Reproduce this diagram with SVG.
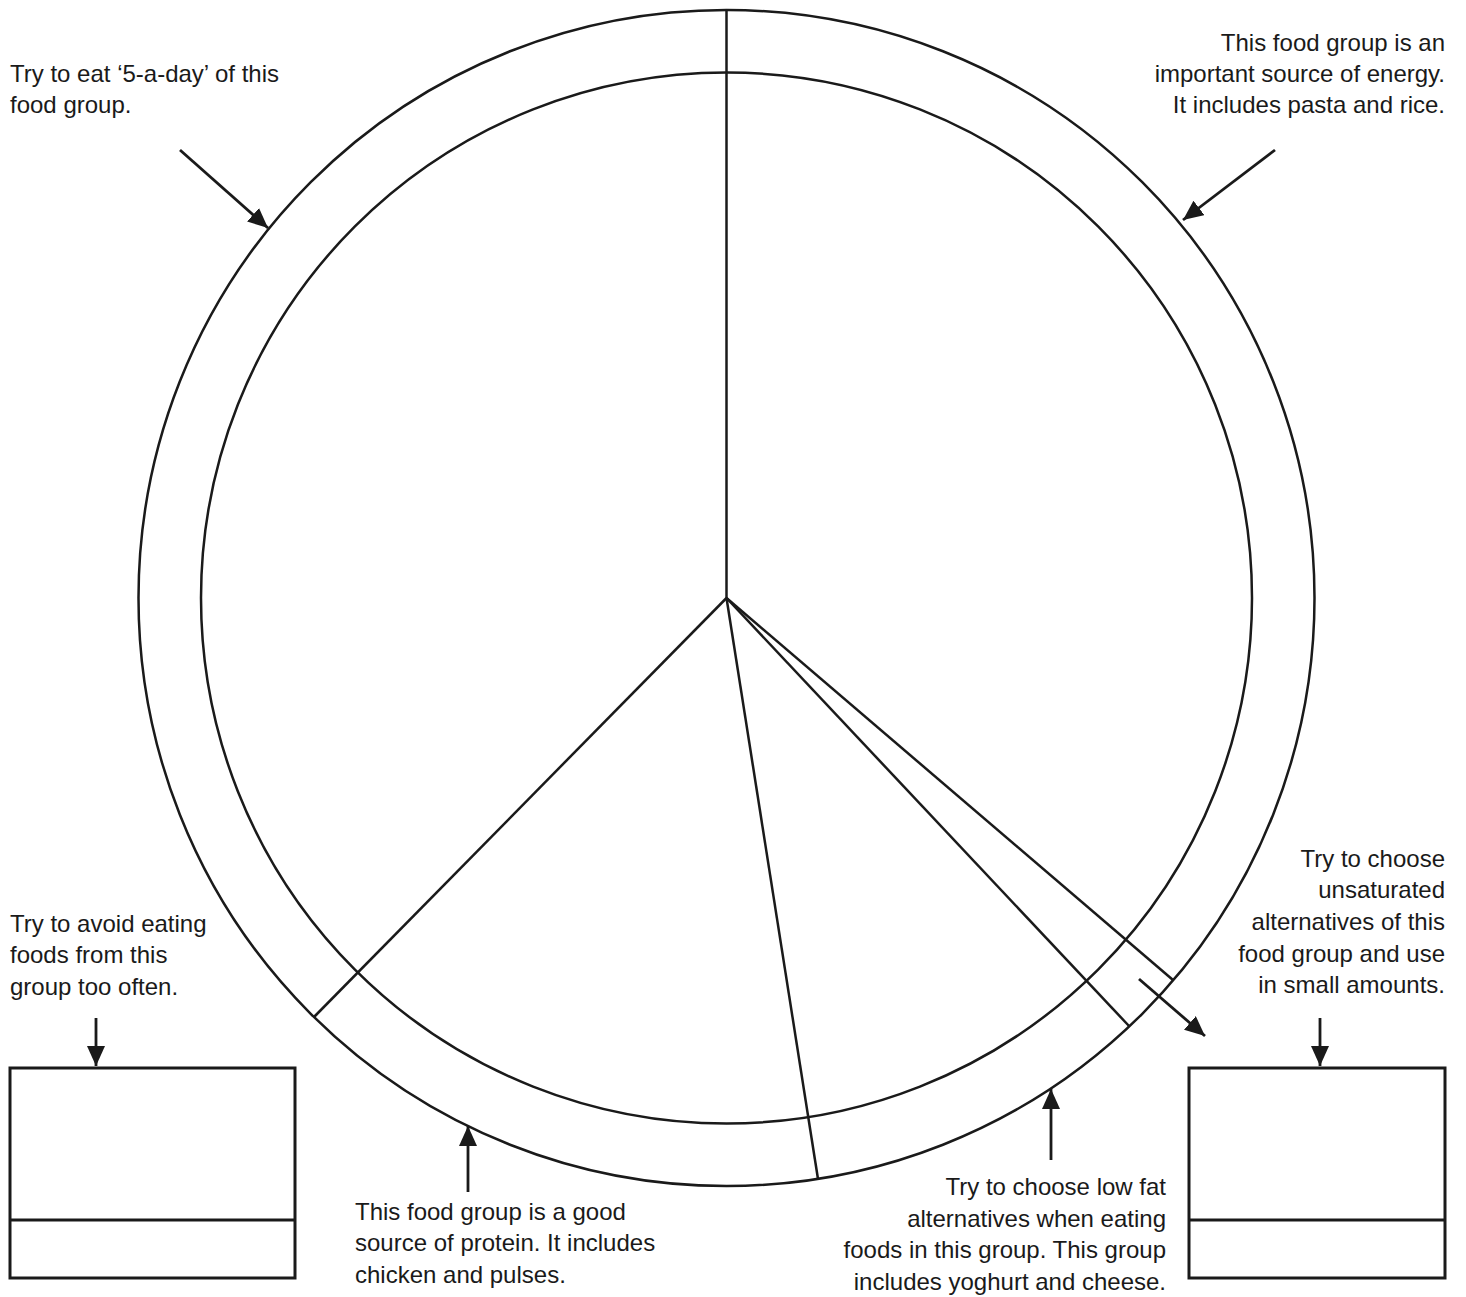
<svg xmlns="http://www.w3.org/2000/svg" width="1466" height="1297" viewBox="0 0 1466 1297">
<style>
.c{fill:none;stroke:#1a1a1a;stroke-width:2.5}
.s{stroke:#1a1a1a;stroke-width:2.5;fill:none}
.a{stroke:#1a1a1a;stroke-width:2.8;fill:none;marker-end:url(#ah)}
.b{fill:none;stroke:#1a1a1a;stroke-width:3}
text{font-family:"Liberation Sans",Arial,sans-serif;font-size:24px;fill:#1a1a1a}
.r{text-anchor:end}
</style>
<defs>
<marker id="ah" markerUnits="userSpaceOnUse" markerWidth="22" markerHeight="18" refX="20" refY="9" orient="auto">
<path d="M0,0 L20,9 L0,18 Z" fill="#1a1a1a"/>
</marker>
</defs>
<rect width="1466" height="1297" fill="#fff"/>
<g id="plate">
<circle class="c" cx="726.5" cy="598" r="588"/>
<circle class="c" cx="726.5" cy="598" r="525.5"/>
<line class="s" x1="726.5" y1="598" x2="726.5" y2="10"/>
<line class="s" x1="726.5" y1="598" x2="314" y2="1017"/>
<line class="s" x1="726.5" y1="598" x2="818" y2="1179"/>
<line class="s" x1="726.5" y1="598" x2="1129" y2="1026"/>
<line class="s" x1="726.5" y1="598" x2="1173" y2="980"/>
</g>
<g id="box-left">
<rect class="b" x="10" y="1068" width="285" height="210"/>
<line class="b" x1="10" y1="1220" x2="295" y2="1220"/>
</g>
<g id="box-right">
<rect class="b" x="1189" y="1068" width="256" height="210"/>
<line class="b" x1="1189" y1="1220" x2="1445" y2="1220"/>
</g>
<g id="connectors">
<line class="a" x1="180" y1="150" x2="268" y2="228"/>
<line class="a" x1="1275" y1="150" x2="1183" y2="220"/>
<line class="a" x1="96" y1="1018" x2="96" y2="1066"/>
<line class="a" x1="468" y1="1192" x2="468" y2="1126"/>
<line class="a" x1="1051" y1="1160" x2="1051" y2="1089"/>
<line class="a" x1="1139" y1="979" x2="1205" y2="1036"/>
<line class="a" x1="1320" y1="1018" x2="1320" y2="1066"/>
</g>
<g id="label-fruit">
<text x="10" y="82">Try to eat ‘5-a-day’ of this</text>
<text x="10" y="113">food group.</text>
</g>
<g id="label-carbs">
<text class="r" x="1445" y="51">This food group is an</text>
<text class="r" x="1445" y="82">important source of energy.</text>
<text class="r" x="1445" y="113">It includes pasta and rice.</text>
</g>
<g id="label-sugar">
<text x="10" y="932">Try to avoid eating</text>
<text x="10" y="963">foods from this</text>
<text x="10" y="995">group too often.</text>
</g>
<g id="label-oils">
<text class="r" x="1445" y="867">Try to choose</text>
<text class="r" x="1445" y="898">unsaturated</text>
<text class="r" x="1445" y="930">alternatives of this</text>
<text class="r" x="1445" y="962">food group and use</text>
<text class="r" x="1445" y="993">in small amounts.</text>
</g>
<g id="label-protein">
<text x="355" y="1220">This food group is a good</text>
<text x="355" y="1251">source of protein. It includes</text>
<text x="355" y="1283">chicken and pulses.</text>
</g>
<g id="label-dairy">
<text class="r" x="1166" y="1195">Try to choose low fat</text>
<text class="r" x="1166" y="1227">alternatives when eating</text>
<text class="r" x="1166" y="1258">foods in this group. This group</text>
<text class="r" x="1166" y="1290">includes yoghurt and cheese.</text>
</g>
</svg>
